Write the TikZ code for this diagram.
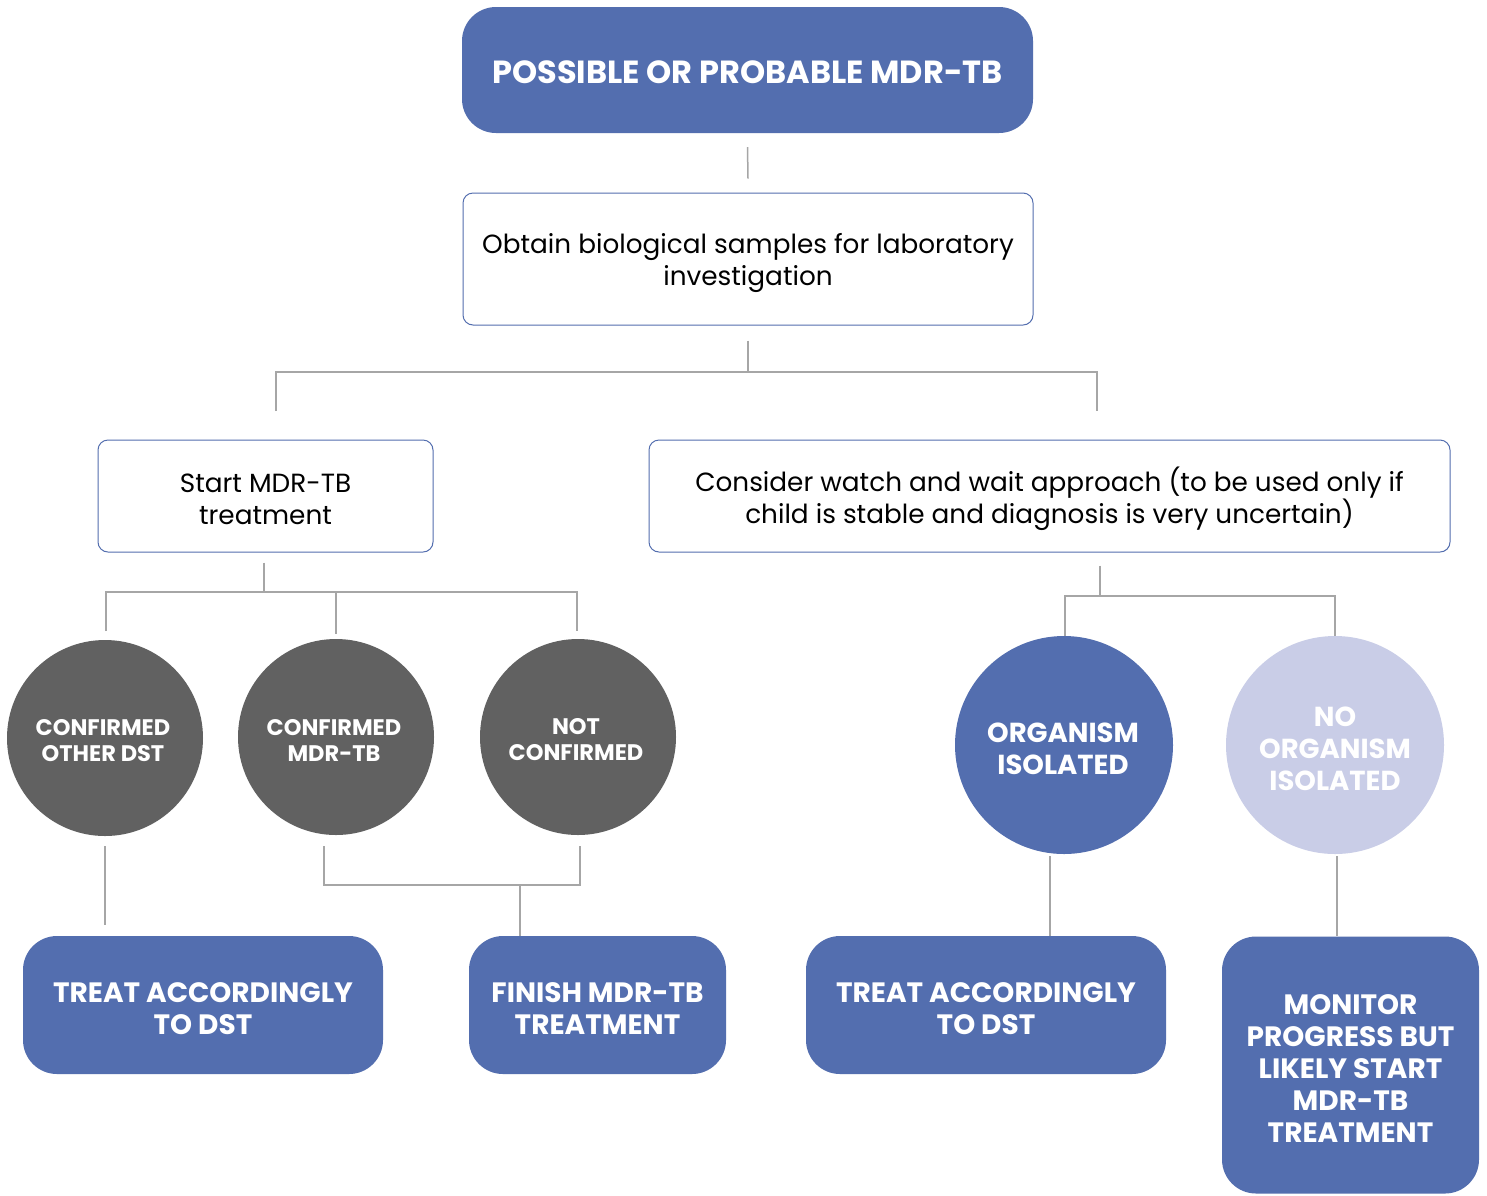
\documentclass[tikz,border=0pt]{standalone}
\usepackage{fontspec}
\setmainfont{Poppins}
\definecolor{bluefill}{HTML}{536EAF}
\definecolor{grayfill}{HTML}{616161}
\definecolor{lightfill}{HTML}{C9CDE7}
\definecolor{linegray}{HTML}{A6A6A6}
\begin{document}
\begin{tikzpicture}[x=1pt,y=-1pt,
  bluebox/.style={rectangle,rounded corners=34pt,fill=bluefill,text=white,align=center,inner sep=0pt,font=\bfseries\fontsize{28}{32}\selectfont},
  whitebox/.style={rectangle,rounded corners=10pt,draw=bluefill,line width=1pt,fill=white,text=black,align=center,inner sep=0pt,font=\fontsize{26.3}{32}\selectfont},
  graycirc/.style={circle,fill=grayfill,text=white,align=center,inner sep=0pt,minimum size=196pt,font=\bfseries\fontsize{22.5}{26}\selectfont},
  bigcirc/.style={circle,text=white,align=center,inner sep=0pt,minimum size=218pt,font=\bfseries\fontsize{27.5}{32}\selectfont},
  conn/.style={draw=linegray,line width=1.5pt}]
\useasboundingbox (0,0) rectangle (1487,1195);
\fill[white] (0,0) rectangle (1487,1195);
% boxes
\node[bluebox,minimum width=571pt,minimum height=126pt] (top) at (747.5,70) {};
\node[text=white,font=\bfseries\fontsize{32}{36}\selectfont,inner sep=0pt] (toptext) at (747.5,72) {POSSIBLE OR PROBABLE MDR-TB};
\node[whitebox,minimum width=570pt,minimum height=132pt] (obtain) at (748,259) {};
\node[align=center,font=\fontsize{26.3}{32}\selectfont,inner sep=0pt] (obtaintext) at (748,263) {Obtain biological samples for laboratory\\investigation};
\node[whitebox,minimum width=335pt,minimum height=112pt] (start) at (265.5,496) {};
\node[align=center,font=\fontsize{26.3}{32}\selectfont,inner sep=0pt] (starttext) at (265.5,499) {Start MDR-TB\\treatment};
\node[whitebox,minimum width=801pt,minimum height=112pt] (watch) at (1049.5,496) {};
\node[align=center,font=\fontsize{26.3}{32}\selectfont,inner sep=0pt] (watchtext) at (1049.5,499) {Consider watch and wait approach (to be used only if\\child is stable and diagnosis is very uncertain)};
% circles
\node[graycirc] (cother) at (105,738) {};
\node[graycirc] (cmdr) at (336,737) {};
\node[graycirc] (notc) at (578,737) {};
\node[text=white,align=center,inner sep=0pt,font=\bfseries\fontsize{22.5}{26}\selectfont] (cothert) at (103,741) {CONFIRMED\\OTHER DST};
\node[text=white,align=center,inner sep=0pt,font=\bfseries\fontsize{22.5}{26}\selectfont] (cmdrt) at (334,740) {CONFIRMED\\MDR-TB};
\node[text=white,align=center,inner sep=0pt,font=\bfseries\fontsize{22.5}{26}\selectfont] (notct) at (576,740) {NOT\\CONFIRMED};
\node[bigcirc,fill=bluefill] (org) at (1064,745) {};
\node[bigcirc,fill=lightfill] (noorg) at (1335,745) {};
\node[text=white,align=center,inner sep=0pt,font=\bfseries\fontsize{27.5}{32}\selectfont] (orgt) at (1063,749) {ORGANISM\\ISOLATED};
\node[text=white,align=center,inner sep=0pt,font=\bfseries\fontsize{27.5}{32}\selectfont] (noorgt) at (1335,749) {NO\\ORGANISM\\ISOLATED};
% bottom boxes
\node[bluebox,minimum width=360pt,minimum height=138pt] (treat1) at (203,1005) {};
\node[bluebox,minimum width=257pt,minimum height=138pt] (finish) at (597.5,1005) {};
\node[bluebox,minimum width=360pt,minimum height=138pt] (treat2) at (986,1005) {};
\node[bluebox,minimum width=257pt,minimum height=257pt] (monitor) at (1350.5,1065) {};
\node[text=white,align=center,inner sep=0pt,font=\bfseries\fontsize{28}{32}\selectfont] (treat1t) at (203,1009) {TREAT ACCORDINGLY\\TO DST};
\node[text=white,align=center,inner sep=0pt,font=\bfseries\fontsize{28}{32}\selectfont] (finisht) at (597.5,1009) {FINISH MDR-TB\\TREATMENT};
\node[text=white,align=center,inner sep=0pt,font=\bfseries\fontsize{28}{32}\selectfont] (treat2t) at (986,1009) {TREAT ACCORDINGLY\\TO DST};
\node[text=white,align=center,inner sep=0pt,font=\bfseries\fontsize{28}{32}\selectfont] (monitort) at (1350.5,1069) {MONITOR\\PROGRESS BUT\\LIKELY START\\MDR-TB\\TREATMENT};
% coordinates
\coordinate (j1) at (748,372);
\coordinate (j1l) at (276,372);
\coordinate (j1r) at (1097,372);
\coordinate (j2) at (264,592);
\coordinate (j2l) at (106,592);
\coordinate (j2m) at (336,592);
\coordinate (j2r) at (577,592);
\coordinate (j3) at (1100,596);
\coordinate (j3l) at (1065,596);
\coordinate (j3r) at (1335,596);
\coordinate (j4l) at (324,885);
\coordinate (j4r) at (580,885);
\coordinate (j4m) at (520,885);
% connectors
\draw[conn] ([yshift=-14pt]top.south) -- ([yshift=14pt]obtain.north);
\draw[conn] ([yshift=-15pt]obtain.south) -- (j1);
\draw[conn] (j1l |- 0,411) -- (j1l) -- (j1r) -- (j1r |- 0,411);
\draw[conn] (start.south -| j2) ++(0,10) -- (j2);
\draw[conn] (j2l |- 0,631) -- (j2l) -- (j2r) -- (j2r |- 0,631);
\draw[conn] (j2m) -- (j2m |- 0,634);
\draw[conn] (watch.south -| j3) ++(0,13) -- (j3);
\draw[conn] (j3l |- 0,636) -- (j3l) -- (j3r) -- (j3r |- 0,636);
\draw[conn] (cother.south) ++(0,10) -- (105,925);
\draw[conn] (j4l |- 0,846) -- (j4l) -- (j4r) -- (j4r |- 0,846);
\draw[conn] (j4m) -- (finish.north -| j4m);
\draw[conn] (1050,856) -- (treat2.north -| 1050,0);
\draw[conn] (1337,856) -- (monitor.north -| 1337,0);
\end{tikzpicture}
\end{document}
